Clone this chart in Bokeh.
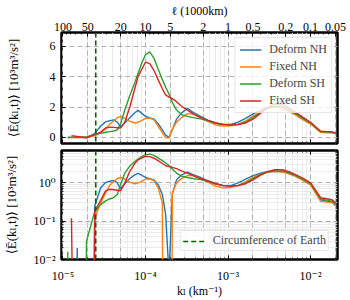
import numpy as np
from bokeh.plotting import figure
from bokeh.layouts import column
from bokeh.models import (Range1d, LogAxis, FixedTicker, CustomJSTickFormatter,
                          Span, Legend, LegendItem)
from bokeh.embed import file_html
from bokeh.resources import INLINE

# ---------------- data ----------------
k_deform = [1.143e-5, 1.489e-5, 1.928e-5, 2.427e-5, 2.864e-5, 3.281e-5, 3.690e-5, 4.150e-5,
            4.550e-5, 4.989e-5, 5.610e-5, 6.457e-5, 7.413e-5, 8.128e-5, 8.954e-5, 1.002e-4,
            1.127e-4, 1.268e-4, 1.422e-4, 1.600e-4, 1.754e-4, 1.928e-4, 2.113e-4, 2.377e-4,
            2.729e-4, 3.214e-4, 3.776e-4, 4.656e-4, 5.741e-4, 7.079e-4, 8.730e-4, 1.076e-3,
            1.324e-3, 1.633e-3, 2.014e-3, 2.483e-3, 2.992e-3, 3.681e-3, 4.539e-3, 5.470e-3,
            6.592e-3, 8.128e-3, 1.002e-2, 1.324e-2, 1.633e-2, 1.832e-2, 2.014e-2]
k_fixed = [1.268e-5, 1.928e-5, 2.427e-5, 2.864e-5, 3.281e-5, 3.690e-5, 4.150e-5,
           4.550e-5, 4.989e-5, 5.610e-5, 6.457e-5, 7.413e-5, 8.128e-5, 8.954e-5, 1.002e-4,
           1.127e-4, 1.268e-4, 1.422e-4, 1.600e-4, 1.754e-4, 1.928e-4, 2.113e-4, 2.377e-4,
           2.729e-4, 3.214e-4, 3.776e-4, 4.656e-4, 5.741e-4, 7.079e-4, 8.730e-4, 1.076e-3,
           1.324e-3, 1.633e-3, 2.014e-3, 2.483e-3, 2.992e-3, 3.681e-3, 4.539e-3, 5.470e-3,
           6.592e-3, 8.128e-3, 1.002e-2, 1.324e-2, 1.633e-2, 1.832e-2, 2.014e-2]

deform_nh = [-0.02, 0.02, -0.01, 0.25, 0.75, 1.02, 1.10, 1.15, 1.00, 0.70, 0.95, 1.30,
             1.62, 1.78, 1.60, 1.38, 1.28, 1.20, 0.90, 0.50, 0.15, 0.004, 0.50, 1.20,
             1.60, 1.92, 1.65, 1.38, 1.12, 0.95, 0.85, 0.85, 1.00, 1.25, 1.55, 1.78,
             1.95, 2.00, 1.95, 1.75, 1.50, 1.20, 0.92, 0.36, 0.33, 0.32, 0.27]
deform_sh = [0.016, -0.01, 0.03, 0.18, 0.27, 0.34, 0.38, 0.42, 0.50, 0.90, 1.80, 2.75,
             3.60, 4.20, 4.85, 5.45, 5.62, 5.20, 4.50, 3.80, 3.30, 2.85, 2.30, 1.80,
             1.50, 1.38, 1.30, 1.22, 1.08, 0.95, 0.86, 0.84, 0.86, 1.00, 1.30, 1.65,
             1.92, 2.05, 2.05, 1.82, 1.55, 1.25, 0.95, 0.38, 0.35, 0.33, 0.28]
fixed_nh = [-0.01, -0.01, 0.12, 0.30, 0.55, 0.87, 1.10, 1.30, 1.38, 1.25, 1.05, 0.95,
            1.00, 1.10, 1.25, 1.27, 1.15, 0.75, 0.30, -0.02, -0.02, 0.55, 1.00, 1.30,
            1.55, 1.55, 1.30, 1.05, 0.82, 0.74, 0.76, 0.85, 1.08, 1.40, 1.70, 1.92,
            2.00, 1.95, 1.72, 1.48, 1.15, 0.88, 0.33, 0.31, 0.30, 0.25]
fixed_sh = [0.12, -0.02, 0.18, 0.35, 0.62, 0.68, 0.66, 0.64, 0.62, 1.00, 2.00, 3.20,
            4.00, 4.45, 4.95, 4.85, 4.40, 3.80, 3.20, 2.80, 2.65, 2.55, 2.35, 2.05,
            1.80, 1.55, 1.30, 1.12, 0.95, 0.85, 0.82, 0.85, 0.95, 1.20, 1.60, 1.95,
            2.20, 2.20, 1.95, 1.65, 1.32, 1.00, 0.41, 0.38, 0.36, 0.30]

series_names = ["Deform NH", "Fixed NH", "Deform SH", "Fixed SH"]
series_colors = ["#1f77b4", "#ff7f0e", "#2ca02c", "#d62728"]

earth_circumference_km = 40075.0

ell_ticks = [100, 50, 20, 10, 5, 2, 1, 0.5, 0.2, 0.1, 0.05]
ell_tick_labels = ["100", "50", "20", "10", "5", "2", "1", "0.5", "0.2", "0.1", "0.05"]
k_major = [1e-5, 1e-4, 1e-3, 1e-2]
k_major_labels = ["10⁻⁵", "10⁻⁴", "10⁻³", "10⁻²"]
E_log_major = [1e-2, 1e-1, 1e0]
E_log_labels = ["10⁻²", "10⁻¹", "10⁰"]
E_lin_major = [0, 2, 4, 6]

# ---------------- helpers ----------------
FONT = "Liberation Serif, DejaVu Serif, serif"
FS = "12px"

k_minor = [m * 10.0 ** e for e in range(-6, -1) for m in range(2, 10)]
E_minor = [m * 10.0 ** e for e in range(-3, 1) for m in range(2, 10)]
k_ell = [1.0 / (1000.0 * l) for l in ell_ticks]
ell_minor = [m * 10.0 ** e for e in range(-2, 2) for m in range(2, 10)]
k_ell_minor = [1.0 / (1000.0 * l) for l in ell_minor]


def lookup(ticks, labels):
    return CustomJSTickFormatter(args=dict(ks=[float(t) for t in ticks], ls=list(labels)), code="""
        for (let i = 0; i < ks.length; i++) {
            if (Math.abs(ks[i] - tick) <= 1e-9 * Math.abs(ks[i]) + 1e-15) { return ls[i]; }
        }
        return "";
    """)


def style_axis(ax):
    ax.axis_line_color = None
    ax.major_tick_in = 4
    ax.major_tick_out = 0
    ax.minor_tick_in = 2
    ax.minor_tick_out = 0
    ax.major_tick_line_color = "black"
    ax.minor_tick_line_color = "black"
    ax.major_tick_line_width = 1
    ax.minor_tick_line_width = 0.8
    ax.major_label_text_font = FONT
    ax.major_label_text_font_size = FS
    ax.major_label_text_color = "black"
    ax.axis_label_text_font = FONT
    ax.axis_label_text_font_size = FS
    ax.axis_label_text_font_style = "normal"
    ax.axis_label_text_color = "black"


def style_fig(p):
    p.outline_line_color = "black"
    p.outline_line_width = 2.5
    p.background_fill_color = "white"
    p.border_fill_color = "white"


def hide_labels(ax):
    ax.major_label_text_font_size = "1px"
    ax.major_label_text_alpha = 0
    ax.major_label_standoff = 0


x_range = Range1d(9.6e-6, 2.12e-2)

# ---------------- top panel (linear) ----------------
p1 = figure(width=350, height=146, x_axis_type="log", x_range=x_range,
            y_range=Range1d(-0.4, 6.9), output_backend="svg", toolbar_location=None,
            min_border_left=61, min_border_right=13, min_border_top=31, min_border_bottom=3)
style_fig(p1)

bx1 = p1.below[0]
bx1.ticker = FixedTicker(ticks=k_major, minor_ticks=k_minor)
style_axis(bx1)
hide_labels(bx1)

ly1 = p1.left[0]
ly1.ticker = FixedTicker(ticks=E_lin_major, minor_ticks=[])
style_axis(ly1)
ly1.major_label_standoff = 6
ly1.axis_label = "⟨Ē(kₗ,t)⟩ [10³m³/s²]"
ly1.axis_label_text_font_size = "13px"
ly1.axis_label_standoff = 26

top_axis = LogAxis(ticker=FixedTicker(ticks=k_ell, minor_ticks=k_ell_minor),
                   formatter=lookup(k_ell, ell_tick_labels), axis_label="ℓ (1000km)")
style_axis(top_axis)
top_axis.major_label_standoff = 2
top_axis.axis_label_standoff = 2
p1.add_layout(top_axis, "above")

p1.xgrid.ticker = FixedTicker(ticks=k_ell, minor_ticks=k_minor)
p1.ygrid.ticker = FixedTicker(ticks=E_lin_major, minor_ticks=[])
for g in (p1.xgrid, p1.ygrid):
    g.grid_line_color = "#b0b0b0"
    g.grid_line_dash = "5 3"
    g.grid_line_width = 1
p1.xgrid.minor_grid_line_color = "#e6e6e6"
p1.xgrid.minor_grid_line_width = 0.8

# ---------------- bottom panel (log) ----------------
p2 = figure(width=350, height=154, x_axis_type="log", y_axis_type="log", x_range=x_range,
            y_range=Range1d(1e-2, 7.0), output_backend="svg", toolbar_location=None,
            min_border_left=61, min_border_right=13, min_border_top=4, min_border_bottom=35)
style_fig(p2)

bx2 = p2.below[0]
bx2.ticker = FixedTicker(ticks=k_major, minor_ticks=k_minor)
bx2.formatter = lookup(k_major, k_major_labels)
style_axis(bx2)
bx2.major_label_standoff = 9
bx2.axis_label = "kₗ (km⁻¹)"
bx2.axis_label_standoff = -2

ly2 = p2.left[0]
ly2.ticker = FixedTicker(ticks=E_log_major, minor_ticks=E_minor)
ly2.formatter = lookup(E_log_major, E_log_labels)
style_axis(ly2)
ly2.major_label_standoff = 6
ly2.axis_label = "⟨Ē(kₗ,t)⟩ [10³m³/s²]"
ly2.axis_label_text_font_size = "13px"
ly2.axis_label_standoff = 12

tx2 = LogAxis(ticker=FixedTicker(ticks=k_major, minor_ticks=k_minor))
style_axis(tx2)
hide_labels(tx2)
p2.add_layout(tx2, "above")

p2.xgrid.ticker = FixedTicker(ticks=k_ell, minor_ticks=k_minor)
p2.ygrid.ticker = FixedTicker(ticks=E_log_major, minor_ticks=E_minor)
for g in (p2.xgrid, p2.ygrid):
    g.grid_line_color = "#b0b0b0"
    g.grid_line_dash = "5 3"
    g.grid_line_width = 1
    g.minor_grid_line_color = "#e6e6e6"
    g.minor_grid_line_width = 0.8

# ---------------- curves ----------------
series_k = [k_deform, k_fixed, k_deform, k_fixed]
series_v = [deform_nh, fixed_nh, deform_sh, fixed_sh]
for name, color, ks, vs in zip(series_names, series_colors, series_k, series_v):
    v = np.array(vs, dtype=float)
    p1.line(ks, v, line_color=color, line_width=1.4, legend_label=name)
    v_clip = np.where(v > 0, v, 1e-30)   # non-positive values clipped as on a log scale
    p2.line(ks, v_clip, line_color=color, line_width=1.4)

k_earth = 1.0 / earth_circumference_km
for p in (p1, p2):
    p.add_layout(Span(location=k_earth, dimension="height", line_color="#006400",
                      line_dash="5 3", line_width=1.6))

leg1 = p1.legend[0]
leg1.location = "top_right"
leg1.margin = 5
leg1.padding = 4
leg1.spacing = 2
leg1.glyph_width = 22
leg1.glyph_height = 13
leg1.label_height = 13
leg1.label_standoff = 8
leg1.label_text_font = FONT
leg1.label_text_font_size = FS
leg1.border_line_color = "#cccccc"
leg1.border_line_width = 1
leg1.background_fill_alpha = 0.8

earth_proxy = p2.line(x=[k_earth], y=[float("nan")], line_color="#006400",
                      line_dash="5 3", line_width=1.6)
leg2 = Legend(items=[LegendItem(label="Circumference of Earth", renderers=[earth_proxy])],
              location="bottom_right", margin=8, padding=2, spacing=0,
              glyph_width=22, glyph_height=12, label_height=12, label_standoff=8,
              label_text_font=FONT, label_text_font_size=FS,
              border_line_color="#cccccc", border_line_width=1, background_fill_alpha=0.8)
p2.add_layout(leg2)

layout = column(p1, p2, spacing=0)
open("out.html", "w").write(file_html(layout, INLINE))
